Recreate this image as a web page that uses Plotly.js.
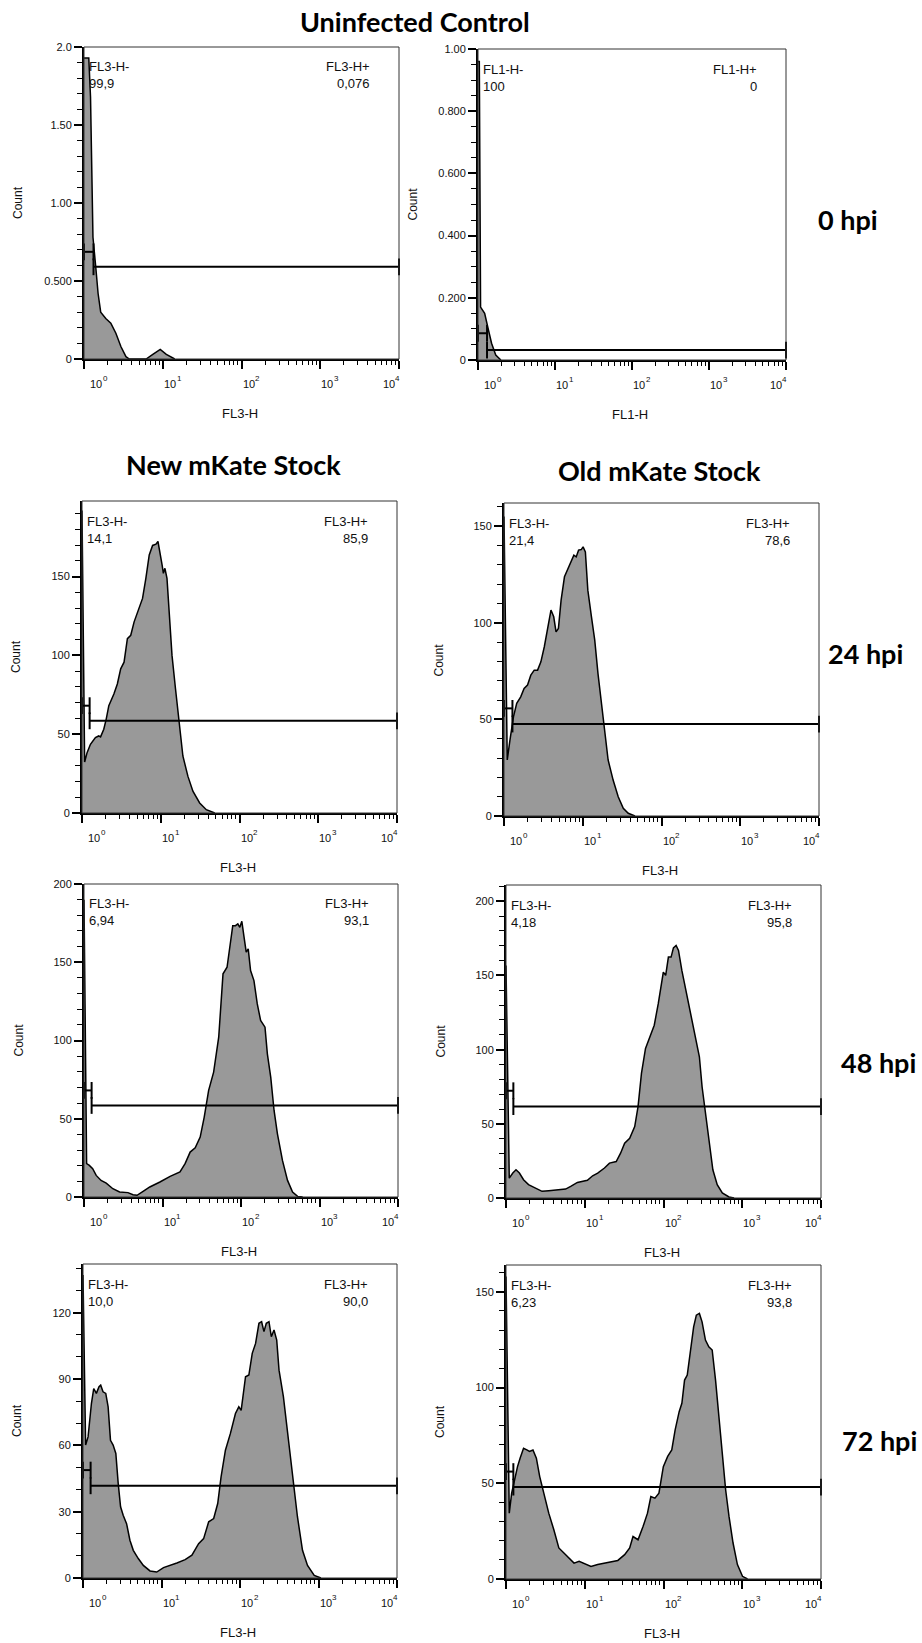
<!DOCTYPE html>
<html>
<head>
<meta charset="utf-8">
<script src="https://cdn.plot.ly/plotly-3.0.1.min.js"></script>
<style>
  html, body { margin: 0; padding: 0; background: #ffffff; }
  #chart { width: 922px; height: 1643px; }
</style>
</head>
<body>
<div id="chart"></div>
<script>
// ---- Event histograms: channel value (x, log scale) and count (y) ----
const uninfFL3X = [1.0, 1.15, 1.21, 1.30, 1.41, 1.51, 1.63, 1.89, 2.19, 2.54, 2.94, 3.41, 3.76, 6.15, 7.48, 9.29, 11.1, 14.2];
const uninfFL3Y = [1.93, 1.93, 1.68, 0.78, 0.59, 0.42, 0.30, 0.26, 0.23, 0.165, 0.08, 0.015, 0, 0, 0.03, 0.062, 0.03, 0];

const uninfFL1X = [1.0, 1.04, 1.08, 1.11, 1.22, 1.35, 1.50, 1.70, 1.98];
const uninfFL1Y = [0.96, 0.96, 0.17, 0.166, 0.15, 0.102, 0.054, 0.016, 0];

const new24X = [1.00, 1.08, 1.16, 1.28, 1.48, 1.63, 1.72, 1.89, 2.03, 2.19, 2.54, 2.81, 3.10, 3.42, 3.77, 4.16, 4.59, 5.32, 5.87, 6.47, 7.14, 7.88, 8.69, 9.22, 9.78, 10.4, 10.8, 11.3, 12.0, 12.9, 13.9, 15.4, 17.3, 19.1, 22.1, 25.6, 31.2, 37.9, 48.5];
const new24Y = [192, 32.3, 38.3, 43.6, 47.9, 48.9, 48.3, 53.2, 59.6, 68.1, 75.5, 81.9, 91.5, 95.7, 110.6, 112.8, 121.3, 129.8, 136.2, 148.9, 163.8, 169.8, 170.6, 172.3, 166, 157.4, 152.1, 155.3, 148.9, 127.7, 100, 78.7, 53.2, 36.2, 23.4, 13.8, 6.4, 2.1, 0];

const old24X = [1.00, 1.10, 1.19, 1.32, 1.45, 1.63, 1.80, 1.99, 2.19, 2.42, 2.67, 2.94, 3.25, 3.58, 3.95, 4.28, 4.58, 4.91, 5.31, 5.86, 6.46, 7.13, 7.71, 8.26, 8.85, 9.57, 10.1, 10.8, 11.6, 12.9, 14.2, 15.6, 17.3, 19.0, 21.0, 24.3, 28.2, 32.7, 37.8, 46.0];
const old24Y = [155, 29, 39.3, 51.4, 58.3, 61.7, 66, 67.8, 72.9, 75.5, 75.5, 79.8, 87.6, 96.2, 106.6, 103.1, 95.3, 97.1, 111.7, 123.8, 128.1, 131.6, 135, 134.1, 137.6, 137.9, 139.3, 136.7, 116.9, 103.1, 91, 73.8, 58.3, 46.2, 29, 18.6, 10, 4, 1.4, 0];

const new48X = [1.00, 1.08, 1.17, 1.29, 1.43, 1.65, 1.92, 2.33, 2.84, 3.63, 4.21, 4.74, 5.66, 6.89, 9.27, 12.5, 16.7, 19.4, 22.5, 26.1, 30.2, 34.0, 38.7, 44.8, 52.0, 59.0, 66.4, 73.3, 78.5, 85.0, 91.1, 96.6, 102.5, 108.7, 116.5, 123.6, 132.4, 146.2, 161.2, 177.8, 202.2, 216.7, 239.2, 263.8, 291.1, 337.4, 391.5, 453.7, 526, 609.5];
const new48Y = [190, 21.3, 20.2, 18.1, 13.8, 10.6, 8.9, 5.3, 3.2, 2.8, 1.5, 1.1, 3.6, 6.4, 9.6, 13.2, 16, 21.3, 28.7, 31.5, 38.3, 51.1, 68.1, 79.8, 102.1, 142.6, 146.8, 161.7, 173.4, 173.4, 174.5, 172.3, 176.2, 167, 156.4, 158.5, 144.7, 138.3, 123.4, 112.8, 108.5, 91.5, 76.6, 55.3, 40.4, 23.4, 10.6, 3.2, 0.4, 0];

const old48X = [1.00, 1.10, 1.22, 1.34, 1.48, 1.67, 1.93, 2.36, 2.87, 3.49, 4.47, 5.71, 6.63, 8.07, 10.8, 12.6, 14.6, 17.8, 20.6, 25.1, 28.5, 32.1, 37.2, 43.1, 47.5, 52.5, 59.1, 67.1, 76.3, 85.8, 99.5, 106.6, 115.4, 124.8, 133.7, 144.6, 155, 171, 192.4, 218.6, 253.5, 285.5, 309, 341, 376, 423.4, 481, 558, 679, 787];
const old48Y = [156.8, 13.4, 16.8, 19, 16.8, 12.3, 9, 6.7, 4.5, 4.9, 5.6, 6, 7.8, 10.5, 11.9, 15, 16.8, 20.2, 23.5, 24.6, 30.2, 37, 40.3, 48.2, 61.6, 84, 100.8, 108.6, 116.5, 131, 152.3, 150.1, 162.4, 162.4, 168.6, 170.2, 166.9, 153.4, 140, 126.5, 110.9, 95.2, 75, 57.1, 37, 19, 9, 3.4, 0.7, 0];

const new72X = [1.00, 1.08, 1.16, 1.28, 1.37, 1.48, 1.60, 1.68, 1.80, 1.95, 2.09, 2.24, 2.42, 2.62, 2.81, 3.01, 3.25, 3.59, 3.96, 4.37, 5.06, 5.87, 7.14, 8.69, 10.6, 12.9, 15.7, 20.0, 24.4, 29.7, 34.4, 39.9, 46.2, 52.0, 57.4, 65.2, 75.5, 87.5, 96.6, 103.5, 117.6, 129.7, 143.2, 158.0, 174.3, 188.5, 201.9, 216.3, 233.9, 250.7, 271.1, 293.6, 314.3, 357.1, 401.8, 465.6, 539.8, 625.4, 724.4, 882.5, 1074];
const new72Y = [137, 60.1, 63.8, 78.9, 85.7, 83.5, 86.5, 87.2, 84.2, 83.5, 77.4, 62.3, 60.1, 56.3, 42.7, 32.2, 28.4, 24.6, 17.1, 12.5, 8.8, 5.7, 3.2, 2.7, 4.7, 5.7, 6.8, 8.3, 10.3, 15.5, 17.8, 25.4, 26.9, 33.7, 45.7, 57.8, 65.4, 74.4, 77.4, 75.8, 91, 91.8, 101.6, 106.1, 115.2, 115.9, 111.4, 115.2, 115.9, 109.1, 112.2, 107.6, 94, 82, 66.9, 45.7, 27.6, 12.5, 5.7, 1.2, 0];

const old72X = [1.00, 1.10, 1.18, 1.28, 1.40, 1.51, 1.67, 1.84, 1.99, 2.20, 2.43, 2.68, 3.01, 3.49, 4.05, 4.69, 5.44, 6.31, 7.31, 8.48, 9.84, 12.0, 14.6, 17.8, 21.6, 26.3, 32.1, 37.2, 41.0, 47.5, 55.1, 62.6, 69.1, 77.8, 87.5, 99.5, 113.0, 127.3, 140.6, 158.1, 171.1, 185.1, 200.3, 218.8, 241.4, 261.2, 285.5, 308.8, 341.0, 376.1, 415.1, 458.1, 505.5, 558.0, 615.2, 679.1, 764.1, 868.4, 1007, 1167];
const old72Y = [158, 34.4, 44.8, 51.8, 58.7, 63.1, 68.3, 67.4, 66.6, 67.4, 63.1, 53.5, 44.8, 34.4, 25.7, 16.2, 13.6, 10.9, 8.3, 9.2, 8, 6.6, 7.6, 8.3, 9.2, 9.7, 12.7, 16.2, 22.2, 20.5, 27.5, 34.4, 43.1, 42.2, 44.8, 58.7, 64, 67.4, 77.9, 87.4, 91.8, 103.9, 106.5, 119.6, 131.7, 137.8, 138.7, 134.3, 124.8, 121.3, 119.6, 103.9, 84.8, 67.4, 46.6, 32.7, 18.8, 7.5, 1.4, 0];

// ---- Gates: boundary channel, bar heights, and % of events in each gate ----
const channelNames  = ['FL3-H', 'FL1-H', 'FL3-H', 'FL3-H', 'FL3-H', 'FL3-H', 'FL3-H', 'FL3-H'];
const gateSplit     = [1.32, 1.31, 1.25, 1.28, 1.25, 1.24, 1.25, 1.24];
const negGateLevel  = [0.687, 0.086, 68.1, 55.7, 68.1, 72.3, 48.8, 56.1];
const posGateLevel  = [0.591, 0.032, 58.5, 47.6, 58.5, 61.6, 41.7, 48.0];
const negPercent    = ['99,9', '100', '14,1', '21,4', '6,94', '4,18', '10,0', '6,23'];
const posPercent    = ['0,076', '0', '85,9', '78,6', '93,1', '95,8', '90,0', '93,8'];
const channelMin = 1, channelMax = 10000;

// ---- Count axes ----
const countMax = [2.0, 1.0, 198, 162, 200, 211, 142, 164];
const countTickVals = [
  [0, 0.5, 1, 1.5, 2], [0, 0.2, 0.4, 0.6, 0.8, 1],
  [0, 50, 100, 150], [0, 50, 100, 150],
  [0, 50, 100, 150, 200], [0, 50, 100, 150, 200],
  [0, 30, 60, 90, 120], [0, 50, 100, 150]
];
const countTickText = [
  ['0', '0.500', '1.00', '1.50', '2.0'], ['0', '0.200', '0.400', '0.600', '0.800', '1.00'],
  ['0', '50', '100', '150'], ['0', '50', '100', '150'],
  ['0', '50', '100', '150', '200'], ['0', '50', '100', '150', '200'],
  ['0', '30', '60', '90', '120'], ['0', '50', '100', '150']
];
const countMinorStep = [0.1, 0.05, 10, 10, 10, 10, 10, 10];
const decades = [0, 1, 2, 3, 4];
const decadeBase = '10';

// ---- Headings ----
const topTitle = 'Uninfected Control';
const columnTitles = ['New mKate Stock', 'Old mKate Stock'];
const rowTitles = ['0 hpi', '24 hpi', '48 hpi', '72 hpi'];

const histX = [uninfFL3X, uninfFL1X, new24X, old24X, new48X, old48X, new72X, old72X];
const histY = [uninfFL3Y, uninfFL1Y, new24Y, old24Y, new48Y, old48Y, new72Y, old72Y];

// ---- Page geometry (pixels): plot boxes [left, right, top, bottom] ----
const W = 922, H = 1643;
const boxes = [
  [84, 399, 47, 359], [478, 786, 49, 360],
  [82, 397, 501, 813], [504, 819, 503, 816],
  [84, 398, 884, 1197], [506, 821, 885, 1198],
  [83, 397, 1264, 1578], [506, 821, 1265, 1579]
];
const px = v => v / W;
const py = v => 1 - v / H;

const axisFont = 'Liberation Sans, Arial, sans-serif';
const headFont = 'Lato, Carlito, sans-serif';
const ink = '#111111';

const minorX = [];
for (let k = 0; k < 4; k++) for (let m = 2; m < 10; m++) minorX.push(m * Math.pow(10, k));

const traces = [], annotations = [], shapes = [];
const layout = {
  width: W, height: H,
  margin: { l: 0, r: 0, t: 0, b: 0 },
  paper_bgcolor: '#ffffff', plot_bgcolor: '#ffffff',
  showlegend: false,
  font: { family: axisFont, size: 12, color: ink }
};

boxes.forEach((b, i) => {
  const n = i === 0 ? '' : String(i + 1);
  const xa = 'x' + n, ya = 'y' + n;

  const minorY = [];
  const steps = Math.floor(countMax[i] / countMinorStep[i] + 1e-9);
  for (let j = 0; j <= steps; j++) {
    const v = Math.round(j * countMinorStep[i] * 1000) / 1000;
    if (countTickVals[i].indexOf(v) === -1) minorY.push(v);
  }

  layout['xaxis' + n] = {
    type: 'log', range: [0, 4], domain: [px(b[0]), px(b[1])], anchor: ya,
    showline: true, linewidth: 2, linecolor: '#000',
    ticks: 'outside', ticklen: 8, tickwidth: 2, tickcolor: '#000',
    tickmode: 'array', tickvals: decades.map(k => Math.pow(10, k)),
    showticklabels: false, showgrid: false, zeroline: false, fixedrange: true,
    minor: { tickmode: 'array', tickvals: minorX, ticks: 'outside', ticklen: 4, tickwidth: 1, tickcolor: '#000', showgrid: false }
  };
  layout['yaxis' + n] = {
    range: [0, countMax[i]], domain: [py(b[3]), py(b[2])], anchor: xa,
    showline: true, linewidth: 2, linecolor: '#000',
    ticks: 'outside', ticklen: 8, tickwidth: 2, tickcolor: '#000',
    tickmode: 'array', tickvals: countTickVals[i], ticktext: countTickText[i],
    tickfont: { family: axisFont, size: 11, color: ink },
    showgrid: false, zeroline: false, fixedrange: true,
    minor: { tickmode: 'array', tickvals: minorY, ticks: 'outside', ticklen: 5, tickwidth: 1, tickcolor: '#000', showgrid: false }
  };

  // histogram
  traces.push({
    type: 'scatter', mode: 'lines', x: histX[i], y: histY[i],
    xaxis: xa, yaxis: ya, fill: 'tozeroy', fillcolor: '#999999',
    line: { color: '#000', width: 1.5 }, hoverinfo: 'skip'
  });
  // negative gate bar
  traces.push({
    type: 'scatter', mode: 'lines+markers',
    x: [channelMin, gateSplit[i]], y: [negGateLevel[i], negGateLevel[i]],
    xaxis: xa, yaxis: ya, cliponaxis: false,
    line: { color: '#000', width: 2 },
    marker: { symbol: 'line-ns', size: 12, line: { color: '#000', width: 2 } },
    hoverinfo: 'skip'
  });
  // positive gate bar
  traces.push({
    type: 'scatter', mode: 'lines+markers',
    x: [gateSplit[i], channelMax], y: [posGateLevel[i], posGateLevel[i]],
    xaxis: xa, yaxis: ya, cliponaxis: false,
    line: { color: '#000', width: 2 },
    marker: { symbol: 'line-ns', size: 12, line: { color: '#000', width: 2 } },
    hoverinfo: 'skip'
  });

  // plot frame
  shapes.push({
    type: 'rect', xref: xa + ' domain', yref: ya + ' domain',
    x0: 0, x1: 1, y0: 0, y1: 1, line: { color: '#333', width: 1 }, layer: 'above'
  });

  const small = { family: axisFont, size: 13, color: ink };
  const gate = (text, x, anchor, xs, ys) => annotations.push({
    text, xref: xa + ' domain', yref: ya + ' domain', x, y: 1,
    xanchor: anchor, yanchor: 'middle', xshift: xs, yshift: ys,
    showarrow: false, font: small
  });
  gate(channelNames[i] + '-', 0, 'left', 3, -20);
  gate(negPercent[i], 0, 'left', 3, -37);
  gate(channelNames[i] + '+', 1, 'right', -27, -20);
  gate(posPercent[i], 1, 'right', -27, -37);

  // axis titles
  annotations.push({
    text: channelNames[i], xref: xa + ' domain', yref: ya + ' domain',
    x: 0.5, y: 0, xanchor: 'center', yanchor: 'middle', yshift: -54, xshift: -2,
    showarrow: false, font: small
  });
  annotations.push({
    text: 'Count', xref: xa + ' domain', yref: ya + ' domain',
    x: 0, y: 0.5, xanchor: 'center', yanchor: 'middle', xshift: -66, textangle: -90,
    showarrow: false, font: { family: axisFont, size: 12, color: ink }
  });

  // decade labels on the log axis: base "10" and a raised exponent
  decades.forEach(k => {
    const last = k === decades.length - 1;
    const baseShift = k === 0 ? 5 : (last ? -3.5 : 0);
    annotations.push({
      text: decadeBase, xref: xa, yref: ya + ' domain',
      x: k, y: 0, xanchor: last ? 'right' : 'left', xshift: baseShift,
      yanchor: 'middle', yshift: -25, borderpad: 0,
      showarrow: false, font: { family: axisFont, size: 11, color: ink }
    });
    annotations.push({
      text: String(k), xref: xa, yref: ya + ' domain',
      x: k, y: 0, xanchor: last ? 'right' : 'left',
      xshift: last ? 1.5 : baseShift + 12.8,
      yanchor: 'middle', yshift: -19, borderpad: 0,
      showarrow: false, font: { family: axisFont, size: 8, color: ink }
    });
  });
});

// headings
const head = (text, x, y) => annotations.push({
  text, xref: 'paper', yref: 'paper', x: px(x), y: py(y),
  xanchor: 'center', yanchor: 'middle', showarrow: false,
  font: { family: headFont, size: 27, weight: 700, color: '#000' }
});
head(topTitle, 415, 21);
head(columnTitles[0], 233, 464);
head(columnTitles[1], 659, 470);
head(rowTitles[0], 848, 219);
head(rowTitles[1], 865, 654);
head(rowTitles[2], 878, 1062);
head(rowTitles[3], 879, 1440);

layout.annotations = annotations;
layout.shapes = shapes;

Plotly.newPlot('chart', traces, layout, { staticPlot: true, displayModeBar: false });
</script>
</body>
</html>
